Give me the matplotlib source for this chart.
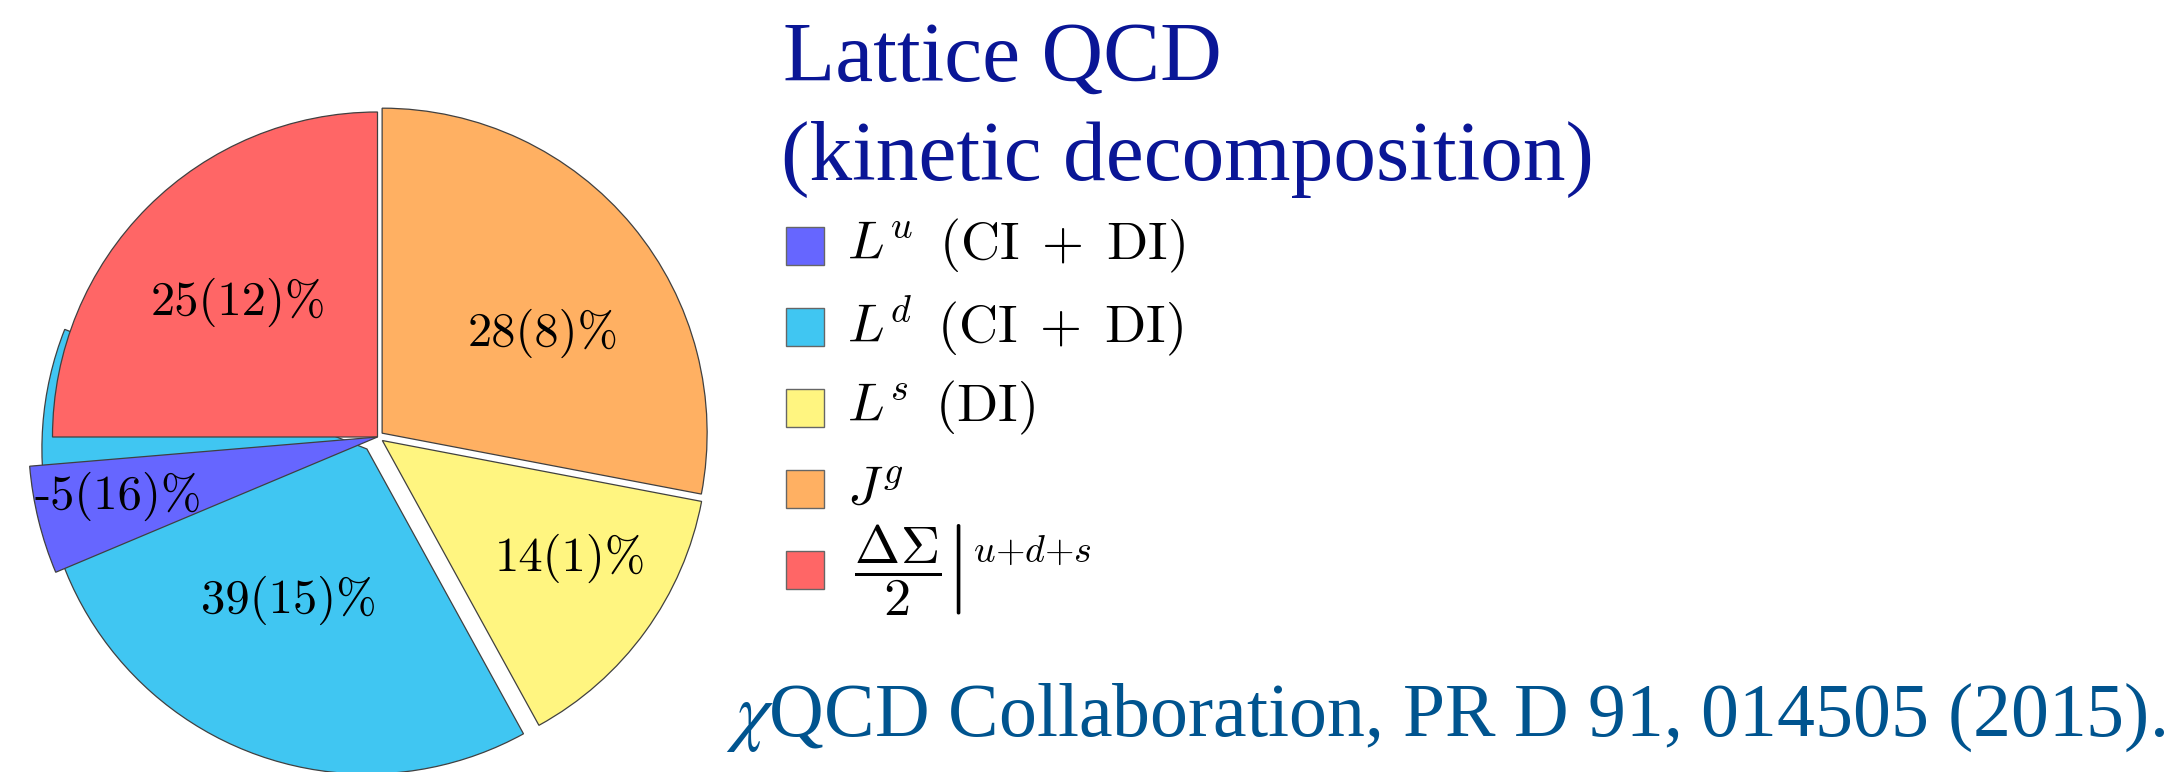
import matplotlib.pyplot as plt
from matplotlib.patches import Wedge, Rectangle
import math

plt.rcParams['mathtext.fontset'] = 'cm'

# spin decomposition of the proton (percent of total), chiQCD 2015
names = ['Lu', 'Ld', 'Ls', 'Jg', 'dSigma']
percent = [-5, 39, 14, 28, 25]
errors = [16, 15, 1, 8, 12]
legend_labels = [r'$L^{u}\ \,(\mathrm{CI}\;+\;\mathrm{DI})$',
                 r'$L^{d}\ \,(\mathrm{CI}\;+\;\mathrm{DI})$',
                 r'$L^{s}\ \,(\mathrm{DI})$',
                 r'$J^{g}$',
                 r'$\,\left.\dfrac{\Delta\Sigma}{2}\right|^{u{+}d{+}s}$']
colors = ['#6666ff', '#40c6f2', '#fff580', '#ffb062', '#ff6666']

W, H = 2177, 772
fig = plt.figure(figsize=(W / 100, H / 100), dpi=100)
ax = fig.add_axes([0, 0, 1, 1])
ax.set_xlim(0, W)
ax.set_ylim(0, H)
ax.axis('off')


def py(y):
    # picture rows counted from the top
    return H - y


cx, cy = 377.5, py(437)
R = 325

# wedge angles: Jg, Ls, Ld run clockwise from the top,
# dSigma and Lu run counter-clockwise from the top
sweep = {n: abs(p) * 3.6 for n, p in zip(names, percent)}
theta = {}
a = 90
for n in ['Jg', 'Ls', 'Ld']:
    theta[n] = (a - sweep[n], a)
    a -= sweep[n]
theta['dSigma'] = (90, 90 + sweep['dSigma'])
lu_start = theta['dSigma'][1] + 4.8
theta['Lu'] = (lu_start, lu_start + sweep['Lu'])

explode = {'Lu': 0, 'Ld': 16, 'Ls': 6, 'Jg': 6, 'dSigma': 0}
radius = {'Lu': 1.074 * R, 'Ld': R, 'Ls': R, 'Jg': R, 'dSigma': R}
order = ['Ld', 'Ls', 'Jg', 'dSigma', 'Lu']

col = dict(zip(names, colors))
for z, n in enumerate(order):
    t1, t2 = theta[n]
    mid = math.radians((t1 + t2) / 2)
    c = (cx + explode[n] * math.cos(mid), cy + explode[n] * math.sin(mid))
    ax.add_patch(Wedge(c, radius[n], t1, t2, facecolor=col[n],
                       edgecolor='#404040', linewidth=0.9, zorder=z + 1))

label_pos = {'Lu': (118, 496), 'Ld': (289, 600), 'Ls': (570, 558),
             'Jg': (543, 333), 'dSigma': (238, 302)}
for n, p, e in zip(names, percent, errors):
    x, y = label_pos[n]
    ax.text(x, py(y), f'{p}({e})%', fontfamily='cmr10', fontsize=35,
            ha='center', va='center', zorder=10)

# legend
for i, (lab, c) in enumerate(zip(legend_labels, colors)):
    yc = py(245.5 + 81.2 * i)
    ax.add_patch(Rectangle((786, yc - 19), 38, 38, facecolor=c,
                           edgecolor='#666666', linewidth=1.0))
    ax.text(847, yc, lab, fontsize=39, ha='left', va='center')

title_col = '#0a1696'
ax.text(783, py(81), 'Lattice QCD', fontfamily='Liberation Serif',
        fontsize=61.5, color=title_col, va='baseline')
ax.text(781, py(180), '(kinetic decomposition)', fontfamily='Liberation Serif',
        fontsize=61.5, color=title_col, va='baseline')

ax.text(726, py(736), r'$\chi$QCD Collaboration, PR D 91, 014505 (2015).',
        fontfamily='Liberation Serif', math_fontfamily='stix',
        fontsize=54.5, color='#00548f', va='baseline')

fig.savefig('out.png', dpi=100)
